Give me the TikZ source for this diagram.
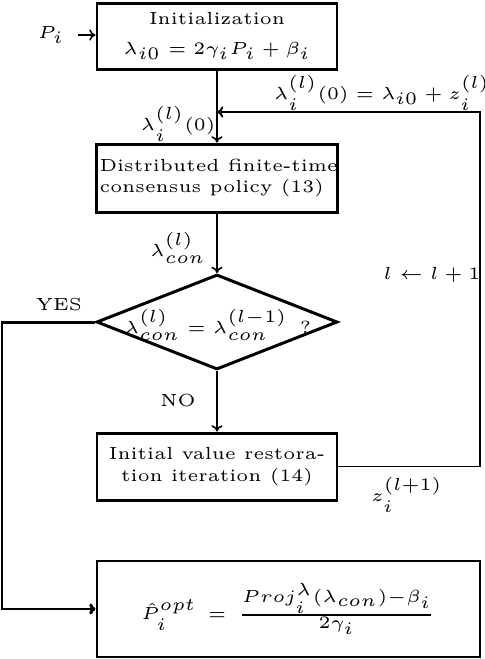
\documentclass[tikz,border=0pt]{standalone}
\usetikzlibrary{shapes.geometric,arrows.meta}
\DeclareMathSizes{5}{5}{3.8}{3}
\def\pxu{0.285pt}
\begin{document}
\begin{tikzpicture}[x=\pxu,y=-\pxu,
  font=\fontsize{5}{6.2}\selectfont,
  box/.style={draw, line width=0.85pt, minimum width=240*\pxu, minimum height=67*\pxu, inner sep=0pt},
  arr/.style={-{To[length=1.8pt,width=3.2pt]}, line width=0.45pt},
  fbline/.style={-{To[length=1.8pt,width=3.2pt]}, line width=0.55pt},
  yesline/.style={-{To[length=1.8pt,width=3.2pt]}, line width=0.85pt},
  lbl/.style={inner sep=0pt}]
\useasboundingbox (0,0) rectangle (484,659);
% boxes
\node[box, minimum height=66*\pxu, align=center] (init) at (217,36)
  {Initialization\\[2.3pt]$\lambda_{i0} = 2\gamma_i P_i + \beta_i$};
\node[box, minimum height=68*\pxu, align=left] (dist) at (217,178)
  {\hspace{1pt}Distributed finite-time\\\hspace{1pt}consensus policy (13)};
\node[draw, diamond, line width=0.85pt, minimum width=241*\pxu, minimum height=95*\pxu, inner sep=0pt] (dec) at (217,322) {};
\node[lbl] (dectext) at (218,325) {$\lambda_{con}^{(l)} = \lambda_{con}^{(l-1)}$\hspace{3.5pt}?};
\node[box, align=center] (rest) at (217,466.5)
  {Initial value restora-\\tion iteration (14)};
\node[box, minimum width=383*\pxu, minimum height=96*\pxu] (out) at (288.5,609)
  {$\hat{P}_i^{opt} \,=\, \frac{Proj_i^{\lambda}(\lambda_{con})-\beta_i}{2\gamma_i}$};
% labels
\node[lbl] (plabel) at (51,35) {$P_i$};
\node[lbl] (lab1) at (382,93) {$\lambda_i^{(l)}(0) = \lambda_{i0} + z_i^{(l)}$};
\node[lbl] (lab2) at (178,124) {$\lambda_i^{(l)}(0)$};
\node[lbl] (lab3) at (178,248) {$\lambda_{con}^{(l)}$};
\node[lbl] (lab4) at (432,275) {$l \leftarrow l+1$};
\node[lbl] (yes) at (59,304) {YES};
\node[lbl] (no) at (178,400) {NO};
\node[lbl] (lab5) at (407,495) {$z_i^{(l+1)}$};
% coordinates
\coordinate (pstart) at (78,35);
\coordinate (fbcorner) at (480,112);
\coordinate (fbjoin) at (217,112);
\coordinate (ycorner) at (2,322);
% connectors
\draw[arr] (pstart) -- (init.west |- pstart);
\draw[arr] (init) -- (dist);
\draw[arr] (dist) -- (dec);
\draw[arr] (dec) -- (rest);
\draw[fbline] (rest.east) -| (fbcorner) -- (fbjoin);
\draw[yesline] (dec.west) -- (ycorner) |- (out.west);
\end{tikzpicture}
\end{document}
